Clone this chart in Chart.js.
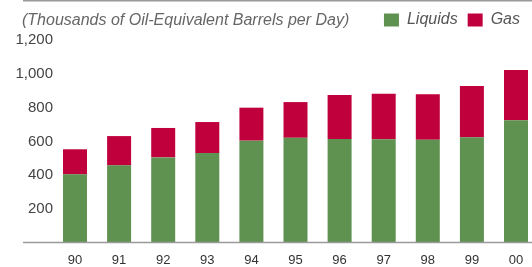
<!DOCTYPE html>
<html>
<head>
<meta charset="utf-8">
<script src="https://cdn.jsdelivr.net/npm/chart.js@4.4.0/dist/chart.umd.min.js"></script>
<style>
  html, body { margin: 0; padding: 0; background: #fff; overflow: hidden; }
  #wrap { position: relative; width: 532px; height: 267px; }
  #note { position: absolute; left: 22px; top: 11px; font: italic 16px 'Liberation Sans', Arial, sans-serif; color: #666; white-space: nowrap; }
</style>
</head>
<body>
<div id="wrap">
  <canvas id="oilChart"></canvas>
  <div id="note">(Thousands of Oil-Equivalent Barrels per Day)</div>
</div>
<script>
// ── DATA ──
const years = ['90', '91', '92', '93', '94', '95', '96', '97', '98', '99', '00'];
const liquids = [406, 459, 506, 532, 605, 622, 615, 613, 611, 625, 725];
const gas = [148, 173, 174, 183, 195, 211, 260, 269, 268, 303, 297];
const yTicks = [200, 400, 600, 800, 1000, 1200];

const FONT = "'Liberation Sans', Arial, sans-serif";

// legend keeps the top band, chart area starts under it
const legendBand = {
    id: 'legendBand',
    beforeInit(chart) {
        const fit = chart.legend.fit;
        chart.legend.fit = function () { fit.call(this); this.height = 40; };
    },
    afterLayout(chart) {
        chart.legend.right += 14;
        chart.legend.top += 2;
    }
};

// gray rules: one across the top, one at the baseline
const rules = {
    id: 'rules',
    afterDraw(chart) {
        const ctx = chart.ctx;
        const y0 = chart.scales.y.getPixelForValue(0);
        ctx.save();
        ctx.strokeStyle = '#9a9a9a';
        ctx.lineWidth = 1.5;
        ctx.beginPath();
        ctx.moveTo(23, 0.75); ctx.lineTo(chart.width, 0.75);
        ctx.moveTo(23, y0 - 0.5); ctx.lineTo(chart.width, y0 - 0.5);
        ctx.stroke();
        ctx.restore();
    }
};

new Chart(document.getElementById('oilChart'), {
    type: 'bar',
    data: {
        labels: years,
        datasets: [
            { label: 'Liquids', data: liquids, backgroundColor: '#5f9150', borderWidth: 0, clip: false },
            { label: 'Gas', data: gas, backgroundColor: '#c0003c', borderWidth: 0, clip: false }
        ]
    },
    options: {
        responsive: true, maintainAspectRatio: false,
        animation: false,
        layout: { padding: { left: 0, right: 16, top: 0, bottom: 0 } },
        datasets: { bar: { barPercentage: 0.68, categoryPercentage: 0.8 } },
        plugins: {
            tooltip: { enabled: false },
            legend: {
                position: 'top', align: 'end',
                labels: {
                    boxWidth: 15, boxHeight: 13, padding: 10,
                    color: '#555',
                    font: { family: FONT, size: 16, style: 'italic' }
                }
            }
        },
        scales: {
            x: {
                stacked: true, offset: false,
                grid: { display: false, drawTicks: false }, border: { display: false },
                ticks: { color: '#333', padding: 10, font: { family: FONT, size: 13 } },
                afterFit(s) { s.height = 24; s.paddingLeft = 0; s.paddingRight = 0; s.paddingTop = 0; s.paddingBottom = 0; }
            },
            y: {
                stacked: true, min: 0, max: 1200,
                grid: { display: false, drawTicks: false }, border: { display: false },
                afterBuildTicks(s) { s.ticks = yTicks.map(v => ({ value: v })); },
                ticks: { color: '#444', padding: 22, font: { family: FONT, size: 15 } },
                afterFit(s) { s.width = 75; s.paddingLeft = 0; s.paddingRight = 0; s.paddingTop = 0; s.paddingBottom = 0; }
            }
        }
    },
    plugins: [legendBand, rules]
});
</script>
</body>
</html>
